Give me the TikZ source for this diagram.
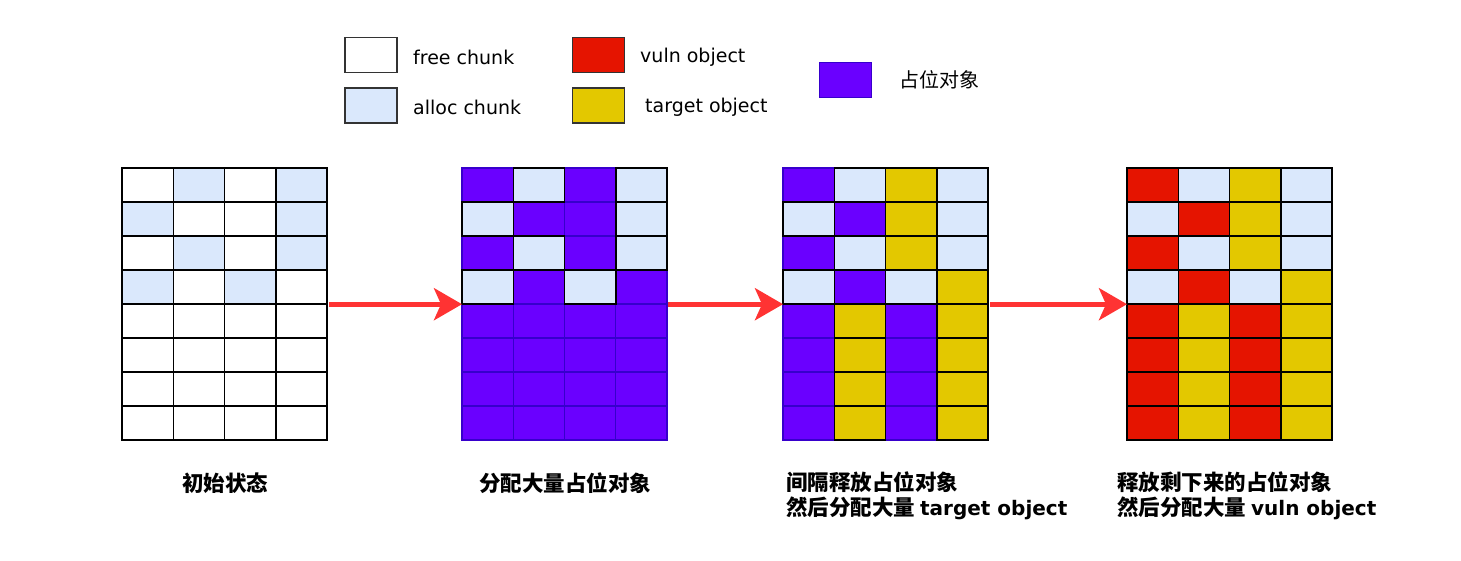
\documentclass[tikz,border=0pt]{standalone}
\usepackage{fontspec}
\setmainfont{Noto Sans CJK SC}
\newfontfamily\lat{DejaVu Sans}
\usetikzlibrary{arrows.meta}
\definecolor{cW}{HTML}{FFFFFF}
\definecolor{cB}{HTML}{DAE8FC}
\definecolor{cP}{HTML}{6A00FF}
\definecolor{cR}{HTML}{E51400}
\definecolor{cY}{HTML}{E3C800}
\definecolor{dW}{HTML}{000000}
\definecolor{dB}{HTML}{000000}
\definecolor{dP}{HTML}{3700CC}
\definecolor{dR}{HTML}{000000}
\definecolor{dY}{HTML}{000000}
\definecolor{arrowred}{HTML}{FF3333}
\tikzset{
  legbox/.style={draw=black!80, line width=1.5pt, minimum width=52pt, minimum height=35pt, inner sep=0pt},
  legtext/.style={anchor=west, font=\fontsize{19}{22}\selectfont, inner sep=0pt},
  gridarea/.style={minimum width=205pt, minimum height=272pt, inner sep=0pt, anchor=north west},
  flow/.style={draw=arrowred, line width=5pt, -{Stealth[length=28pt,width=32pt,inset=7pt]}},
  caption/.style={font=\fontsize{21.5}{25}\selectfont\bfseries, inner sep=0pt, align=left}
}
\newcommand{\mygrid}[2]{%
  \foreach \c [count=\i from 0] in {#2} {
    \pgfmathtruncatemacro\cc{mod(\i,4)}
    \pgfmathtruncatemacro\rr{int(\i/4)}
    \fill[c\c] (#1+\cc*51.25,168+\rr*34) rectangle ++(51.25,34);
    \draw[d\c, line width=1.2pt] (#1+\cc*51.25,168+\rr*34) rectangle ++(51.25,34);
  }
  \foreach \c [count=\i from 0] in {#2} {
    \pgfmathtruncatemacro\cc{mod(\i,4)}
    \pgfmathtruncatemacro\rr{int(\i/4)}
    \if\c P\else
    \draw[black, line width=1.5pt] (#1+\cc*51.25,168+\rr*34) rectangle ++(51.25,34);
    \fi
  }
}
\begin{document}
\begin{tikzpicture}[x=1pt,y=-1pt]
\useasboundingbox (0,0) rectangle (1461,560);
% legend
\node[legbox, fill=cW] (lfree) at (371,55) {};
\node[legtext] (tfree) at (413,57) {\lat free chunk};
\node[legbox, fill=cB] (lalloc) at (371,105.5) {};
\node[legtext] (talloc) at (413,107.5) {\lat alloc chunk};
\node[legbox, fill=cR] (lvuln) at (598.5,55) {};
\node[legtext] (tvuln) at (640,57) {\lat vuln object};
\node[legbox, fill=cY] (ltarget) at (598.5,105.5) {};
\node[legtext] (ttarget) at (645,107.5) {\lat target object};
\node[legbox, fill=cP, draw=dP, line width=1pt] (lpurple) at (845,79.5) {};
\node[legtext, font=\fontsize{20}{22}\selectfont] (tpurple) at (899,80) {占位对象};
% grids
\mygrid{122}{W,B,W,B, B,W,W,B, W,B,W,B, B,W,B,W, W,W,W,W, W,W,W,W, W,W,W,W, W,W,W,W}
\mygrid{462}{P,B,P,B, B,P,P,B, P,B,P,B, B,P,B,P, P,P,P,P, P,P,P,P, P,P,P,P, P,P,P,P}
\mygrid{783}{P,B,Y,B, B,P,Y,B, P,B,Y,B, B,P,B,Y, P,Y,P,Y, P,Y,P,Y, P,Y,P,Y, P,Y,P,Y}
\mygrid{1127}{R,B,Y,B, B,R,Y,B, R,B,Y,B, B,R,B,Y, R,Y,R,Y, R,Y,R,Y, R,Y,R,Y, R,Y,R,Y}
\node[gridarea] (g1) at (122,168) {};
\node[gridarea] (g2) at (462,168) {};
\node[gridarea] (g3) at (783,168) {};
\node[gridarea] (g4) at (1127,168) {};
% arrows
\draw[flow] ([xshift=2pt]g1.east) -- (g2.west);
\draw[flow] ([xshift=1pt]g2.east) -- (g3.west);
\draw[flow] ([xshift=2pt]g3.east) -- (g4.west);
% captions
\node[caption] (c1) at (225,483) {初始状态};
\node[caption] (c2) at (565,483) {分配大量占位对象};
\node[caption, anchor=north west] (c3) at (786,471) {间隔释放占位对象\\然后分配大量 {\lat\fontsize{20}{25}\selectfont target object}};
\node[caption, anchor=north west] (c4) at (1117,471) {释放剩下来的占位对象\\然后分配大量 {\lat\fontsize{20}{25}\selectfont vuln object}};
\end{tikzpicture}
\end{document}
